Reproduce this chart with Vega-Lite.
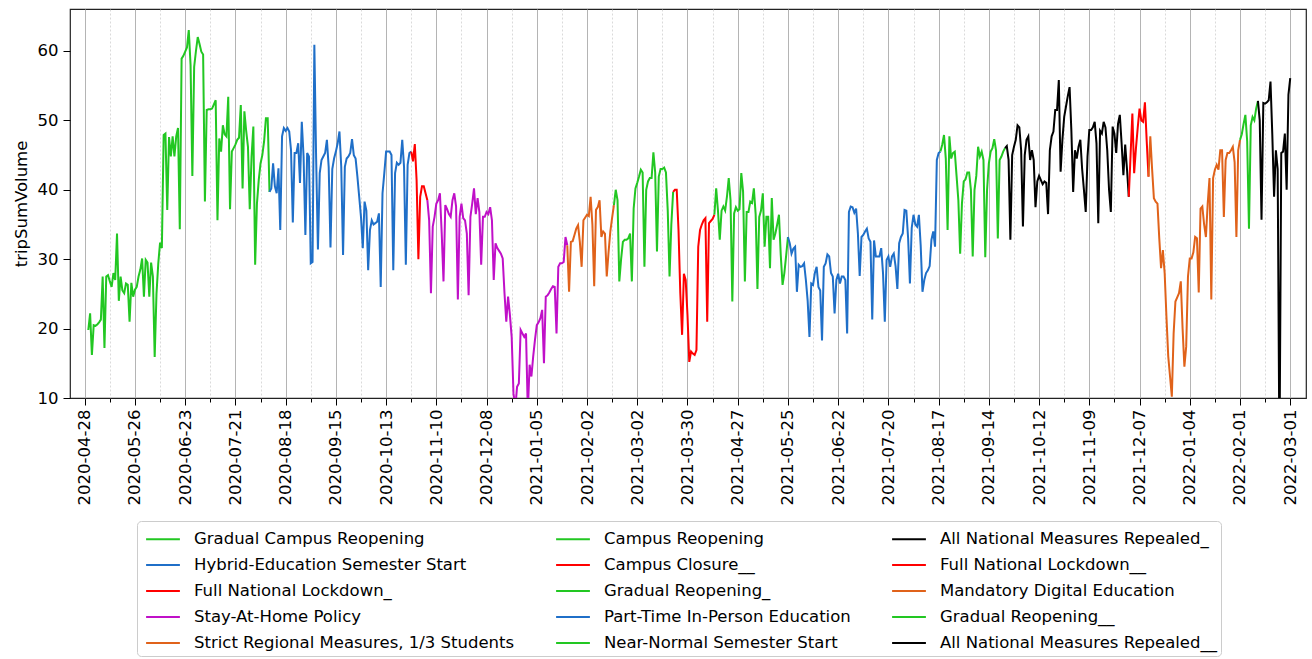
{
"$schema":"https://vega.github.io/schema/vega-lite/v6.json",
"autosize":{"type":"none"},
"width":1236,"height":389,
"padding":{"left":70,"top":9,"right":6,"bottom":261},
"config":{"font":"DejaVu Sans","view":{"stroke":"#222","strokeWidth":1.2},"background":"white"},
"data":{"values":[
{"t":"2020-04-30","v":19.8,"p":1},
{"t":"2020-05-01","v":22.2,"p":1},{"t":"2020-05-02","v":16.2,"p":1},{"t":"2020-05-03","v":20.5,"p":1},{"t":"2020-05-04","v":20.4,"p":1},{"t":"2020-05-05","v":20.6,"p":1},{"t":"2020-05-06","v":20.9,"p":1},{"t":"2020-05-07","v":21.3,"p":1},{"t":"2020-05-08","v":27.5,"p":1},{"t":"2020-05-09","v":17.2,"p":1},{"t":"2020-05-10","v":27.5,"p":1},{"t":"2020-05-11","v":27.7,"p":1},{"t":"2020-05-12","v":26.8,"p":1},{"t":"2020-05-13","v":26.0,"p":1},{"t":"2020-05-14","v":28.0,"p":1},{"t":"2020-05-15","v":27.0,"p":1},{"t":"2020-05-16","v":33.7,"p":1},{"t":"2020-05-17","v":24.0,"p":1},{"t":"2020-05-18","v":27.5,"p":1},{"t":"2020-05-19","v":25.5,"p":1},{"t":"2020-05-20","v":25.1,"p":1},{"t":"2020-05-21","v":26.5,"p":1},{"t":"2020-05-22","v":26.3,"p":1},{"t":"2020-05-23","v":21.0,"p":1},{"t":"2020-05-24","v":26.6,"p":1},{"t":"2020-05-25","v":24.6,"p":1},{"t":"2020-05-26","v":25.6,"p":1},{"t":"2020-05-27","v":26.0,"p":1},{"t":"2020-05-28","v":27.5,"p":1},{"t":"2020-05-29","v":28.5,"p":1},{"t":"2020-05-30","v":30.1,"p":1},{"t":"2020-05-31","v":24.6,"p":1},
{"t":"2020-06-01","v":29.9,"p":1},{"t":"2020-06-02","v":29.5,"p":1},{"t":"2020-06-03","v":24.6,"p":1},{"t":"2020-06-04","v":29.5,"p":1},{"t":"2020-06-05","v":27.5,"p":1},{"t":"2020-06-06","v":15.9,"p":1},{"t":"2020-06-07","v":25.0,"p":1},{"t":"2020-06-08","v":29.4,"p":1},{"t":"2020-06-09","v":32.4,"p":1},{"t":"2020-06-10","v":31.6,"p":1},{"t":"2020-06-11","v":47.9,"p":1},{"t":"2020-06-12","v":48.1,"p":1},{"t":"2020-06-13","v":37.1,"p":1},{"t":"2020-06-14","v":47.6,"p":1},{"t":"2020-06-15","v":44.8,"p":1},{"t":"2020-06-16","v":47.7,"p":1},{"t":"2020-06-17","v":44.8,"p":1},{"t":"2020-06-18","v":47.7,"p":1},{"t":"2020-06-19","v":48.9,"p":1},{"t":"2020-06-20","v":34.3,"p":1},{"t":"2020-06-21","v":58.9,"p":1},{"t":"2020-06-22","v":59.3,"p":1},{"t":"2020-06-23","v":59.9,"p":1},{"t":"2020-06-24","v":60.5,"p":1},{"t":"2020-06-25","v":63.0,"p":1},{"t":"2020-06-26","v":58.0,"p":1},{"t":"2020-06-27","v":42.0,"p":1},{"t":"2020-06-28","v":57.7,"p":1},{"t":"2020-06-29","v":60.0,"p":1},{"t":"2020-06-30","v":62.0,"p":1},
{"t":"2020-07-01","v":61.0,"p":1},{"t":"2020-07-02","v":59.9,"p":1},{"t":"2020-07-03","v":59.5,"p":1},{"t":"2020-07-04","v":38.3,"p":1},{"t":"2020-07-05","v":51.5,"p":1},{"t":"2020-07-06","v":51.6,"p":1},{"t":"2020-07-07","v":51.6,"p":1},{"t":"2020-07-08","v":51.7,"p":1},{"t":"2020-07-09","v":52.3,"p":1},{"t":"2020-07-10","v":52.9,"p":1},{"t":"2020-07-11","v":35.6,"p":1},{"t":"2020-07-12","v":47.4,"p":1},{"t":"2020-07-13","v":45.5,"p":1},{"t":"2020-07-14","v":49.3,"p":1},{"t":"2020-07-15","v":48.0,"p":1},{"t":"2020-07-16","v":47.7,"p":1},{"t":"2020-07-17","v":53.4,"p":1},{"t":"2020-07-18","v":37.2,"p":1},{"t":"2020-07-19","v":45.5,"p":1},{"t":"2020-07-20","v":46.0,"p":1},{"t":"2020-07-21","v":46.5,"p":1},{"t":"2020-07-22","v":47.2,"p":1},{"t":"2020-07-23","v":47.5,"p":1},{"t":"2020-07-24","v":52.2,"p":1},{"t":"2020-07-25","v":40.2,"p":1},{"t":"2020-07-26","v":51.3,"p":1},{"t":"2020-07-27","v":48.5,"p":1},{"t":"2020-07-28","v":46.2,"p":1},{"t":"2020-07-29","v":37.2,"p":1},{"t":"2020-07-30","v":44.8,"p":1},{"t":"2020-07-31","v":49.1,"p":1},
{"t":"2020-08-01","v":29.2,"p":1},{"t":"2020-08-02","v":38.0,"p":1},{"t":"2020-08-03","v":41.4,"p":1},{"t":"2020-08-04","v":43.8,"p":1},{"t":"2020-08-05","v":45.0,"p":1},{"t":"2020-08-06","v":47.0,"p":1},{"t":"2020-08-07","v":50.3,"p":1},{"t":"2020-08-08","v":50.3,"p":1},{"t":"2020-08-09","v":39.7,"p":1},
{"t":"2020-08-09","v":39.7,"p":2},{"t":"2020-08-10","v":40.2,"p":2},{"t":"2020-08-11","v":43.8,"p":2},{"t":"2020-08-12","v":40.5,"p":2},{"t":"2020-08-13","v":39.5,"p":2},{"t":"2020-08-14","v":43.1,"p":2},{"t":"2020-08-15","v":34.2,"p":2},{"t":"2020-08-16","v":47.7,"p":2},{"t":"2020-08-17","v":48.9,"p":2},{"t":"2020-08-18","v":48.5,"p":2},{"t":"2020-08-19","v":48.9,"p":2},{"t":"2020-08-20","v":48.4,"p":2},{"t":"2020-08-21","v":45.7,"p":2},{"t":"2020-08-22","v":35.3,"p":2},{"t":"2020-08-23","v":45.3,"p":2},{"t":"2020-08-24","v":45.3,"p":2},{"t":"2020-08-25","v":46.7,"p":2},{"t":"2020-08-26","v":41.0,"p":2},{"t":"2020-08-27","v":49.8,"p":2},{"t":"2020-08-28","v":44.8,"p":2},{"t":"2020-08-29","v":33.5,"p":2},{"t":"2020-08-30","v":45.3,"p":2},{"t":"2020-08-31","v":44.8,"p":2},
{"t":"2020-09-01","v":29.4,"p":2},{"t":"2020-09-02","v":29.6,"p":2},{"t":"2020-09-03","v":60.9,"p":2},{"t":"2020-09-04","v":44.5,"p":2},{"t":"2020-09-05","v":31.4,"p":2},{"t":"2020-09-06","v":42.4,"p":2},{"t":"2020-09-07","v":44.3,"p":2},{"t":"2020-09-08","v":44.8,"p":2},{"t":"2020-09-09","v":45.3,"p":2},{"t":"2020-09-10","v":47.2,"p":2},{"t":"2020-09-11","v":43.3,"p":2},{"t":"2020-09-12","v":31.7,"p":2},{"t":"2020-09-13","v":43.0,"p":2},{"t":"2020-09-14","v":44.5,"p":2},{"t":"2020-09-15","v":45.5,"p":2},{"t":"2020-09-16","v":46.7,"p":2},{"t":"2020-09-17","v":48.4,"p":2},{"t":"2020-09-18","v":43.3,"p":2},{"t":"2020-09-19","v":30.6,"p":2},{"t":"2020-09-20","v":43.3,"p":2},{"t":"2020-09-21","v":44.5,"p":2},{"t":"2020-09-22","v":44.8,"p":2},{"t":"2020-09-23","v":45.3,"p":2},{"t":"2020-09-24","v":47.3,"p":2},{"t":"2020-09-25","v":45.0,"p":2},{"t":"2020-09-26","v":44.5,"p":2},{"t":"2020-09-27","v":41.9,"p":2},{"t":"2020-09-28","v":39.0,"p":2},{"t":"2020-09-29","v":36.1,"p":2},{"t":"2020-09-30","v":31.6,"p":2},
{"t":"2020-10-01","v":38.3,"p":2},{"t":"2020-10-02","v":37.0,"p":2},{"t":"2020-10-03","v":28.4,"p":2},{"t":"2020-10-04","v":34.2,"p":2},{"t":"2020-10-05","v":35.6,"p":2},{"t":"2020-10-06","v":35.0,"p":2},{"t":"2020-10-07","v":35.2,"p":2},{"t":"2020-10-08","v":35.4,"p":2},{"t":"2020-10-09","v":36.6,"p":2},{"t":"2020-10-10","v":26.0,"p":2},{"t":"2020-10-11","v":39.5,"p":2},{"t":"2020-10-12","v":42.4,"p":2},{"t":"2020-10-13","v":45.5,"p":2},{"t":"2020-10-14","v":45.5,"p":2},{"t":"2020-10-15","v":45.5,"p":2},{"t":"2020-10-16","v":45.0,"p":2},{"t":"2020-10-17","v":28.4,"p":2},{"t":"2020-10-18","v":42.4,"p":2},{"t":"2020-10-19","v":43.9,"p":2},{"t":"2020-10-20","v":43.6,"p":2},{"t":"2020-10-21","v":43.9,"p":2},{"t":"2020-10-22","v":47.2,"p":2},{"t":"2020-10-23","v":43.3,"p":2},{"t":"2020-10-24","v":29.2,"p":2},{"t":"2020-10-25","v":43.6,"p":2},{"t":"2020-10-26","v":45.3,"p":2},{"t":"2020-10-27","v":45.5,"p":2},
{"t":"2020-10-27","v":45.5,"p":3},{"t":"2020-10-28","v":44.1,"p":3},{"t":"2020-10-29","v":46.6,"p":3},{"t":"2020-10-30","v":41.4,"p":3},{"t":"2020-10-31","v":30.0,"p":3},{"t":"2020-11-01","v":39.0,"p":3},{"t":"2020-11-02","v":40.5,"p":3},{"t":"2020-11-03","v":40.5,"p":3},{"t":"2020-11-04","v":39.5,"p":3},{"t":"2020-11-05","v":38.5,"p":3},
{"t":"2020-11-05","v":38.5,"p":4},{"t":"2020-11-06","v":35.6,"p":4},{"t":"2020-11-07","v":25.1,"p":4},{"t":"2020-11-08","v":34.7,"p":4},{"t":"2020-11-09","v":36.1,"p":4},{"t":"2020-11-10","v":38.0,"p":4},{"t":"2020-11-11","v":38.5,"p":4},{"t":"2020-11-12","v":39.5,"p":4},{"t":"2020-11-13","v":33.7,"p":4},{"t":"2020-11-14","v":26.8,"p":4},{"t":"2020-11-15","v":37.8,"p":4},{"t":"2020-11-16","v":37.2,"p":4},{"t":"2020-11-17","v":36.5,"p":4},{"t":"2020-11-18","v":36.1,"p":4},{"t":"2020-11-19","v":38.5,"p":4},{"t":"2020-11-20","v":39.5,"p":4},{"t":"2020-11-21","v":37.6,"p":4},{"t":"2020-11-22","v":24.2,"p":4},{"t":"2020-11-23","v":36.1,"p":4},{"t":"2020-11-24","v":38.0,"p":4},{"t":"2020-11-25","v":35.9,"p":4},{"t":"2020-11-26","v":35.6,"p":4},{"t":"2020-11-27","v":33.7,"p":4},{"t":"2020-11-28","v":24.8,"p":4},{"t":"2020-11-29","v":36.1,"p":4},{"t":"2020-11-30","v":38.0,"p":4},
{"t":"2020-12-01","v":40.2,"p":4},{"t":"2020-12-02","v":36.5,"p":4},{"t":"2020-12-03","v":38.8,"p":4},{"t":"2020-12-04","v":36.8,"p":4},{"t":"2020-12-05","v":29.2,"p":4},{"t":"2020-12-06","v":36.1,"p":4},{"t":"2020-12-07","v":36.1,"p":4},{"t":"2020-12-08","v":36.8,"p":4},{"t":"2020-12-09","v":36.5,"p":4},{"t":"2020-12-10","v":37.5,"p":4},{"t":"2020-12-11","v":35.6,"p":4},{"t":"2020-12-12","v":27.0,"p":4},{"t":"2020-12-13","v":32.3,"p":4},{"t":"2020-12-14","v":31.6,"p":4},{"t":"2020-12-15","v":31.2,"p":4},{"t":"2020-12-16","v":30.8,"p":4},{"t":"2020-12-17","v":30.1,"p":4},{"t":"2020-12-18","v":25.1,"p":4},{"t":"2020-12-19","v":21.0,"p":4},{"t":"2020-12-20","v":24.6,"p":4},{"t":"2020-12-21","v":22.0,"p":4},{"t":"2020-12-22","v":18.8,"p":4},{"t":"2020-12-23","v":10.7,"p":4},{"t":"2020-12-24","v":8.5,"p":4},{"t":"2020-12-25","v":11.6,"p":4},{"t":"2020-12-26","v":12.1,"p":4},{"t":"2020-12-27","v":19.8,"p":4},{"t":"2020-12-28","v":19.3,"p":4},{"t":"2020-12-29","v":18.8,"p":4},{"t":"2020-12-30","v":19.3,"p":4},{"t":"2020-12-31","v":8.0,"p":4},
{"t":"2021-01-01","v":14.8,"p":4},{"t":"2021-01-02","v":13.1,"p":4},{"t":"2021-01-03","v":16.0,"p":4},{"t":"2021-01-04","v":18.4,"p":4},{"t":"2021-01-05","v":20.5,"p":4},{"t":"2021-01-06","v":20.9,"p":4},{"t":"2021-01-07","v":21.5,"p":4},{"t":"2021-01-08","v":22.7,"p":4},{"t":"2021-01-09","v":15.0,"p":4},{"t":"2021-01-10","v":24.6,"p":4},{"t":"2021-01-11","v":24.8,"p":4},{"t":"2021-01-12","v":25.2,"p":4},{"t":"2021-01-13","v":25.7,"p":4},{"t":"2021-01-14","v":26.1,"p":4},{"t":"2021-01-15","v":26.0,"p":4},{"t":"2021-01-16","v":19.3,"p":4},{"t":"2021-01-17","v":28.9,"p":4},{"t":"2021-01-18","v":29.4,"p":4},{"t":"2021-01-19","v":29.4,"p":4},{"t":"2021-01-20","v":29.6,"p":4},{"t":"2021-01-21","v":33.2,"p":4},{"t":"2021-01-22","v":32.0,"p":4},
{"t":"2021-01-22","v":32.0,"p":5},{"t":"2021-01-23","v":25.3,"p":5},{"t":"2021-01-24","v":32.5,"p":5},{"t":"2021-01-25","v":32.6,"p":5},{"t":"2021-01-26","v":33.5,"p":5},{"t":"2021-01-27","v":34.4,"p":5},{"t":"2021-01-28","v":34.9,"p":5},{"t":"2021-01-29","v":32.5,"p":5},{"t":"2021-01-30","v":28.9,"p":5},{"t":"2021-01-31","v":35.6,"p":5},
{"t":"2021-02-01","v":36.0,"p":5},{"t":"2021-02-02","v":36.4,"p":5},{"t":"2021-02-03","v":36.2,"p":5},{"t":"2021-02-04","v":39.0,"p":5},{"t":"2021-02-05","v":35.0,"p":5},{"t":"2021-02-06","v":26.1,"p":5},{"t":"2021-02-07","v":37.1,"p":5},{"t":"2021-02-08","v":37.5,"p":5},{"t":"2021-02-09","v":38.5,"p":5},{"t":"2021-02-10","v":33.2,"p":5},{"t":"2021-02-11","v":34.0,"p":5},{"t":"2021-02-12","v":33.7,"p":5},{"t":"2021-02-13","v":27.5,"p":5},{"t":"2021-02-14","v":31.0,"p":5},{"t":"2021-02-15","v":34.0,"p":5},{"t":"2021-02-16","v":36.0,"p":5},{"t":"2021-02-17","v":37.8,"p":5},
{"t":"2021-02-17","v":37.8,"p":6},{"t":"2021-02-18","v":40.0,"p":6},{"t":"2021-02-19","v":38.5,"p":6},{"t":"2021-02-20","v":26.8,"p":6},{"t":"2021-02-21","v":30.0,"p":6},{"t":"2021-02-22","v":32.5,"p":6},{"t":"2021-02-23","v":32.8,"p":6},{"t":"2021-02-24","v":32.8,"p":6},{"t":"2021-02-25","v":33.0,"p":6},{"t":"2021-02-26","v":33.7,"p":6},{"t":"2021-02-27","v":26.8,"p":6},{"t":"2021-02-28","v":37.3,"p":6},
{"t":"2021-03-01","v":40.2,"p":6},{"t":"2021-03-02","v":41.0,"p":6},{"t":"2021-03-03","v":41.9,"p":6},{"t":"2021-03-04","v":42.9,"p":6},{"t":"2021-03-05","v":42.5,"p":6},{"t":"2021-03-06","v":28.9,"p":6},{"t":"2021-03-07","v":40.0,"p":6},{"t":"2021-03-08","v":41.2,"p":6},{"t":"2021-03-09","v":41.7,"p":6},{"t":"2021-03-10","v":41.7,"p":6},{"t":"2021-03-11","v":45.4,"p":6},{"t":"2021-03-12","v":42.5,"p":6},{"t":"2021-03-13","v":31.1,"p":6},{"t":"2021-03-14","v":41.9,"p":6},{"t":"2021-03-15","v":43.0,"p":6},{"t":"2021-03-16","v":43.0,"p":6},{"t":"2021-03-17","v":43.2,"p":6},{"t":"2021-03-18","v":42.5,"p":6},{"t":"2021-03-19","v":37.0,"p":6},{"t":"2021-03-20","v":27.5,"p":6},{"t":"2021-03-21","v":35.0,"p":6},{"t":"2021-03-22","v":39.7,"p":6},
{"t":"2021-03-22","v":39.7,"p":7},{"t":"2021-03-23","v":40.0,"p":7},{"t":"2021-03-24","v":40.0,"p":7},{"t":"2021-03-25","v":34.2,"p":7},{"t":"2021-03-26","v":25.1,"p":7},{"t":"2021-03-27","v":19.1,"p":7},{"t":"2021-03-28","v":27.9,"p":7},{"t":"2021-03-29","v":27.0,"p":7},{"t":"2021-03-30","v":22.0,"p":7},{"t":"2021-03-31","v":15.2,"p":7},
{"t":"2021-04-01","v":16.7,"p":7},{"t":"2021-04-02","v":16.4,"p":7},{"t":"2021-04-03","v":16.2,"p":7},{"t":"2021-04-04","v":16.9,"p":7},{"t":"2021-04-05","v":31.8,"p":7},{"t":"2021-04-06","v":34.2,"p":7},{"t":"2021-04-07","v":35.0,"p":7},{"t":"2021-04-08","v":35.6,"p":7},{"t":"2021-04-09","v":35.9,"p":7},{"t":"2021-04-10","v":21.0,"p":7},{"t":"2021-04-11","v":35.2,"p":7},{"t":"2021-04-12","v":35.5,"p":7},{"t":"2021-04-13","v":35.8,"p":7},{"t":"2021-04-14","v":36.4,"p":7},
{"t":"2021-04-14","v":36.4,"p":8},{"t":"2021-04-15","v":40.2,"p":8},{"t":"2021-04-16","v":37.0,"p":8},{"t":"2021-04-17","v":32.8,"p":8},{"t":"2021-04-18","v":37.0,"p":8},{"t":"2021-04-19","v":37.6,"p":8},{"t":"2021-04-20","v":37.0,"p":8},{"t":"2021-04-21","v":39.0,"p":8},{"t":"2021-04-22","v":41.7,"p":8},{"t":"2021-04-23","v":38.5,"p":8},{"t":"2021-04-24","v":23.9,"p":8},{"t":"2021-04-25","v":36.6,"p":8},{"t":"2021-04-26","v":37.5,"p":8},{"t":"2021-04-27","v":37.0,"p":8},{"t":"2021-04-28","v":37.2,"p":8},{"t":"2021-04-29","v":42.4,"p":8},{"t":"2021-04-30","v":39.7,"p":8},
{"t":"2021-05-01","v":26.8,"p":8},{"t":"2021-05-02","v":36.8,"p":8},{"t":"2021-05-03","v":36.8,"p":8},{"t":"2021-05-04","v":38.3,"p":8},{"t":"2021-05-05","v":38.1,"p":8},{"t":"2021-05-06","v":40.2,"p":8},{"t":"2021-05-07","v":36.5,"p":8},{"t":"2021-05-08","v":25.7,"p":8},{"t":"2021-05-09","v":36.1,"p":8},{"t":"2021-05-10","v":37.0,"p":8},{"t":"2021-05-11","v":39.5,"p":8},{"t":"2021-05-12","v":31.8,"p":8},{"t":"2021-05-13","v":36.1,"p":8},{"t":"2021-05-14","v":36.1,"p":8},{"t":"2021-05-15","v":28.7,"p":8},{"t":"2021-05-16","v":38.8,"p":8},{"t":"2021-05-17","v":32.8,"p":8},{"t":"2021-05-18","v":33.7,"p":8},{"t":"2021-05-19","v":35.0,"p":8},{"t":"2021-05-20","v":36.4,"p":8},{"t":"2021-05-21","v":30.6,"p":8},{"t":"2021-05-22","v":26.3,"p":8},{"t":"2021-05-23","v":28.0,"p":8},{"t":"2021-05-24","v":30.5,"p":8},{"t":"2021-05-25","v":33.2,"p":8},
{"t":"2021-05-25","v":33.2,"p":9},{"t":"2021-05-26","v":32.3,"p":9},{"t":"2021-05-27","v":30.8,"p":9},{"t":"2021-05-28","v":31.5,"p":9},{"t":"2021-05-29","v":31.8,"p":9},{"t":"2021-05-30","v":25.3,"p":9},{"t":"2021-05-31","v":29.2,"p":9},
{"t":"2021-06-01","v":28.9,"p":9},{"t":"2021-06-02","v":29.0,"p":9},{"t":"2021-06-03","v":29.4,"p":9},{"t":"2021-06-04","v":27.0,"p":9},{"t":"2021-06-05","v":24.0,"p":9},{"t":"2021-06-06","v":18.8,"p":9},{"t":"2021-06-07","v":26.5,"p":9},{"t":"2021-06-08","v":26.3,"p":9},{"t":"2021-06-09","v":28.0,"p":9},{"t":"2021-06-10","v":28.9,"p":9},{"t":"2021-06-11","v":26.0,"p":9},{"t":"2021-06-12","v":25.5,"p":9},{"t":"2021-06-13","v":18.3,"p":9},{"t":"2021-06-14","v":28.9,"p":9},{"t":"2021-06-15","v":29.4,"p":9},{"t":"2021-06-16","v":30.7,"p":9},{"t":"2021-06-17","v":30.4,"p":9},{"t":"2021-06-18","v":28.0,"p":9},{"t":"2021-06-19","v":27.5,"p":9},{"t":"2021-06-20","v":22.2,"p":9},{"t":"2021-06-21","v":27.0,"p":9},{"t":"2021-06-22","v":27.9,"p":9},{"t":"2021-06-23","v":26.5,"p":9},{"t":"2021-06-24","v":27.5,"p":9},{"t":"2021-06-25","v":27.5,"p":9},{"t":"2021-06-26","v":27.0,"p":9},{"t":"2021-06-27","v":19.3,"p":9},{"t":"2021-06-28","v":36.8,"p":9},{"t":"2021-06-29","v":37.6,"p":9},{"t":"2021-06-30","v":37.5,"p":9},
{"t":"2021-07-01","v":36.7,"p":9},{"t":"2021-07-02","v":37.3,"p":9},{"t":"2021-07-03","v":33.7,"p":9},{"t":"2021-07-04","v":27.6,"p":9},{"t":"2021-07-05","v":33.2,"p":9},{"t":"2021-07-06","v":33.5,"p":9},{"t":"2021-07-07","v":34.0,"p":9},{"t":"2021-07-08","v":34.4,"p":9},{"t":"2021-07-09","v":33.0,"p":9},{"t":"2021-07-10","v":32.5,"p":9},{"t":"2021-07-11","v":21.3,"p":9},{"t":"2021-07-12","v":32.7,"p":9},{"t":"2021-07-13","v":30.4,"p":9},{"t":"2021-07-14","v":30.4,"p":9},{"t":"2021-07-15","v":30.4,"p":9},{"t":"2021-07-16","v":31.6,"p":9},{"t":"2021-07-17","v":28.0,"p":9},{"t":"2021-07-18","v":21.0,"p":9},{"t":"2021-07-19","v":29.9,"p":9},{"t":"2021-07-20","v":30.4,"p":9},{"t":"2021-07-21","v":28.9,"p":9},{"t":"2021-07-22","v":30.4,"p":9},{"t":"2021-07-23","v":30.8,"p":9},{"t":"2021-07-24","v":29.0,"p":9},{"t":"2021-07-25","v":25.7,"p":9},{"t":"2021-07-26","v":32.3,"p":9},{"t":"2021-07-27","v":33.2,"p":9},{"t":"2021-07-28","v":33.7,"p":9},{"t":"2021-07-29","v":37.1,"p":9},{"t":"2021-07-30","v":37.0,"p":9},{"t":"2021-07-31","v":33.0,"p":9},
{"t":"2021-08-01","v":26.5,"p":9},{"t":"2021-08-02","v":34.5,"p":9},{"t":"2021-08-03","v":36.4,"p":9},{"t":"2021-08-04","v":35.0,"p":9},{"t":"2021-08-05","v":34.7,"p":9},{"t":"2021-08-06","v":36.4,"p":9},{"t":"2021-08-07","v":32.0,"p":9},{"t":"2021-08-08","v":25.3,"p":9},{"t":"2021-08-09","v":27.0,"p":9},{"t":"2021-08-10","v":28.0,"p":9},{"t":"2021-08-11","v":28.4,"p":9},{"t":"2021-08-12","v":29.0,"p":9},{"t":"2021-08-13","v":32.8,"p":9},{"t":"2021-08-14","v":34.0,"p":9},{"t":"2021-08-15","v":31.8,"p":9},{"t":"2021-08-16","v":44.3,"p":9},{"t":"2021-08-17","v":45.3,"p":9},{"t":"2021-08-18","v":45.5,"p":9},
{"t":"2021-08-18","v":45.5,"p":10},{"t":"2021-08-19","v":46.5,"p":10},{"t":"2021-08-20","v":47.9,"p":10},{"t":"2021-08-21","v":44.5,"p":10},{"t":"2021-08-22","v":34.2,"p":10},{"t":"2021-08-23","v":47.7,"p":10},{"t":"2021-08-24","v":44.5,"p":10},{"t":"2021-08-25","v":45.3,"p":10},{"t":"2021-08-26","v":45.5,"p":10},{"t":"2021-08-27","v":42.0,"p":10},{"t":"2021-08-28","v":38.5,"p":10},{"t":"2021-08-29","v":30.8,"p":10},{"t":"2021-08-30","v":38.0,"p":10},{"t":"2021-08-31","v":41.2,"p":10},
{"t":"2021-09-01","v":41.5,"p":10},{"t":"2021-09-02","v":42.5,"p":10},{"t":"2021-09-03","v":42.5,"p":10},{"t":"2021-09-04","v":40.0,"p":10},{"t":"2021-09-05","v":30.4,"p":10},{"t":"2021-09-06","v":40.0,"p":10},{"t":"2021-09-07","v":42.0,"p":10},{"t":"2021-09-08","v":46.2,"p":10},{"t":"2021-09-09","v":44.8,"p":10},{"t":"2021-09-10","v":45.5,"p":10},{"t":"2021-09-11","v":44.3,"p":10},{"t":"2021-09-12","v":30.3,"p":10},{"t":"2021-09-13","v":40.0,"p":10},{"t":"2021-09-14","v":43.8,"p":10},{"t":"2021-09-15","v":45.5,"p":10},{"t":"2021-09-16","v":46.0,"p":10},{"t":"2021-09-17","v":47.3,"p":10},{"t":"2021-09-18","v":45.7,"p":10},{"t":"2021-09-19","v":33.0,"p":10},{"t":"2021-09-20","v":44.3,"p":10},{"t":"2021-09-21","v":44.8,"p":10},{"t":"2021-09-22","v":45.5,"p":10},{"t":"2021-09-23","v":46.0,"p":10},
{"t":"2021-09-23","v":46.0,"p":11},{"t":"2021-09-24","v":46.3,"p":11},{"t":"2021-09-25","v":44.3,"p":11},{"t":"2021-09-26","v":32.8,"p":11},{"t":"2021-09-27","v":45.0,"p":11},{"t":"2021-09-28","v":46.2,"p":11},{"t":"2021-09-29","v":47.2,"p":11},{"t":"2021-09-30","v":49.3,"p":11},
{"t":"2021-10-01","v":49.0,"p":11},{"t":"2021-10-02","v":45.7,"p":11},{"t":"2021-10-03","v":34.7,"p":11},{"t":"2021-10-04","v":45.0,"p":11},{"t":"2021-10-05","v":47.2,"p":11},{"t":"2021-10-06","v":47.7,"p":11},{"t":"2021-10-07","v":44.3,"p":11},{"t":"2021-10-08","v":45.7,"p":11},{"t":"2021-10-09","v":44.3,"p":11},{"t":"2021-10-10","v":37.5,"p":11},{"t":"2021-10-11","v":41.2,"p":11},{"t":"2021-10-12","v":42.0,"p":11},{"t":"2021-10-13","v":41.4,"p":11},{"t":"2021-10-14","v":40.8,"p":11},{"t":"2021-10-15","v":41.2,"p":11},{"t":"2021-10-16","v":41.0,"p":11},{"t":"2021-10-17","v":36.5,"p":11},{"t":"2021-10-18","v":45.7,"p":11},{"t":"2021-10-19","v":47.7,"p":11},{"t":"2021-10-20","v":48.4,"p":11},{"t":"2021-10-21","v":51.5,"p":11},{"t":"2021-10-22","v":51.5,"p":11},{"t":"2021-10-23","v":55.8,"p":11},{"t":"2021-10-24","v":42.6,"p":11},{"t":"2021-10-25","v":47.2,"p":11},{"t":"2021-10-26","v":50.5,"p":11},{"t":"2021-10-27","v":52.0,"p":11},{"t":"2021-10-28","v":53.5,"p":11},{"t":"2021-10-29","v":54.8,"p":11},{"t":"2021-10-30","v":48.5,"p":11},{"t":"2021-10-31","v":39.7,"p":11},
{"t":"2021-11-01","v":45.7,"p":11},{"t":"2021-11-02","v":44.5,"p":11},{"t":"2021-11-03","v":46.2,"p":11},{"t":"2021-11-04","v":47.2,"p":11},{"t":"2021-11-05","v":43.0,"p":11},{"t":"2021-11-06","v":40.0,"p":11},{"t":"2021-11-07","v":36.8,"p":11},{"t":"2021-11-08","v":44.8,"p":11},{"t":"2021-11-09","v":48.6,"p":11},{"t":"2021-11-10","v":48.6,"p":11},{"t":"2021-11-11","v":49.0,"p":11},{"t":"2021-11-12","v":49.8,"p":11},{"t":"2021-11-13","v":46.7,"p":11},{"t":"2021-11-14","v":35.2,"p":11},{"t":"2021-11-15","v":48.5,"p":11},{"t":"2021-11-16","v":48.1,"p":11},{"t":"2021-11-17","v":49.8,"p":11},{"t":"2021-11-18","v":49.0,"p":11},{"t":"2021-11-19","v":45.7,"p":11},{"t":"2021-11-20","v":40.0,"p":11},{"t":"2021-11-21","v":36.8,"p":11},{"t":"2021-11-22","v":49.1,"p":11},{"t":"2021-11-23","v":48.1,"p":11},{"t":"2021-11-24","v":45.3,"p":11},{"t":"2021-11-25","v":49.5,"p":11},{"t":"2021-11-26","v":50.8,"p":11},{"t":"2021-11-27","v":46.7,"p":11},{"t":"2021-11-28","v":42.1,"p":11},{"t":"2021-11-29","v":46.5,"p":11},{"t":"2021-11-30","v":43.0,"p":11},{"t":"2021-12-01","v":39.0,"p":11},
{"t":"2021-12-01","v":39.0,"p":12},{"t":"2021-12-02","v":45.0,"p":12},{"t":"2021-12-03","v":51.0,"p":12},{"t":"2021-12-04","v":42.4,"p":12},{"t":"2021-12-05","v":46.0,"p":12},{"t":"2021-12-06","v":49.0,"p":12},{"t":"2021-12-07","v":51.7,"p":12},{"t":"2021-12-08","v":50.0,"p":12},{"t":"2021-12-09","v":49.8,"p":12},{"t":"2021-12-10","v":52.6,"p":12},{"t":"2021-12-11","v":47.0,"p":12},{"t":"2021-12-12","v":41.9,"p":12},
{"t":"2021-12-12","v":41.9,"p":13},{"t":"2021-12-13","v":47.7,"p":13},{"t":"2021-12-14","v":43.0,"p":13},{"t":"2021-12-15","v":38.8,"p":13},{"t":"2021-12-16","v":38.3,"p":13},{"t":"2021-12-17","v":38.0,"p":13},{"t":"2021-12-18","v":33.0,"p":13},{"t":"2021-12-19","v":28.7,"p":13},{"t":"2021-12-20","v":31.3,"p":13},{"t":"2021-12-21","v":28.0,"p":13},{"t":"2021-12-22","v":21.7,"p":13},{"t":"2021-12-23","v":16.0,"p":13},{"t":"2021-12-24","v":13.1,"p":13},{"t":"2021-12-25","v":10.2,"p":13},{"t":"2021-12-26","v":19.3,"p":13},{"t":"2021-12-27","v":23.9,"p":13},{"t":"2021-12-28","v":24.5,"p":13},{"t":"2021-12-29","v":25.1,"p":13},{"t":"2021-12-30","v":26.8,"p":13},{"t":"2021-12-31","v":20.0,"p":13},
{"t":"2022-01-01","v":14.5,"p":13},{"t":"2022-01-02","v":17.4,"p":13},{"t":"2022-01-03","v":27.5,"p":13},{"t":"2022-01-04","v":30.1,"p":13},{"t":"2022-01-05","v":30.1,"p":13},{"t":"2022-01-06","v":31.0,"p":13},{"t":"2022-01-07","v":33.2,"p":13},{"t":"2022-01-08","v":33.0,"p":13},{"t":"2022-01-09","v":25.2,"p":13},{"t":"2022-01-10","v":37.3,"p":13},{"t":"2022-01-11","v":37.6,"p":13},{"t":"2022-01-12","v":35.0,"p":13},{"t":"2022-01-13","v":33.2,"p":13},{"t":"2022-01-14","v":38.0,"p":13},{"t":"2022-01-15","v":41.7,"p":13},{"t":"2022-01-16","v":24.2,"p":13},{"t":"2022-01-17","v":41.7,"p":13},{"t":"2022-01-18","v":42.9,"p":13},{"t":"2022-01-19","v":43.6,"p":13},{"t":"2022-01-20","v":42.9,"p":13},{"t":"2022-01-21","v":45.7,"p":13},{"t":"2022-01-22","v":45.7,"p":13},{"t":"2022-01-23","v":36.1,"p":13},{"t":"2022-01-24","v":44.3,"p":13},{"t":"2022-01-25","v":45.3,"p":13},{"t":"2022-01-26","v":45.3,"p":13},{"t":"2022-01-27","v":45.7,"p":13},{"t":"2022-01-28","v":46.2,"p":13},{"t":"2022-01-29","v":44.0,"p":13},{"t":"2022-01-30","v":33.2,"p":13},{"t":"2022-01-31","v":45.7,"p":13},{"t":"2022-02-01","v":47.2,"p":13},
{"t":"2022-02-01","v":47.2,"p":14},{"t":"2022-02-02","v":48.0,"p":14},{"t":"2022-02-03","v":49.5,"p":14},{"t":"2022-02-04","v":50.8,"p":14},{"t":"2022-02-05","v":47.0,"p":14},{"t":"2022-02-06","v":34.4,"p":14},{"t":"2022-02-07","v":49.3,"p":14},{"t":"2022-02-08","v":50.5,"p":14},{"t":"2022-02-09","v":50.0,"p":14},{"t":"2022-02-10","v":51.7,"p":14},{"t":"2022-02-11","v":52.8,"p":14},
{"t":"2022-02-11","v":52.8,"p":15},{"t":"2022-02-12","v":50.0,"p":15},{"t":"2022-02-13","v":35.7,"p":15},{"t":"2022-02-14","v":52.5,"p":15},{"t":"2022-02-15","v":52.4,"p":15},{"t":"2022-02-16","v":52.6,"p":15},{"t":"2022-02-17","v":52.9,"p":15},{"t":"2022-02-18","v":55.6,"p":15},{"t":"2022-02-19","v":48.0,"p":15},{"t":"2022-02-20","v":39.0,"p":15},{"t":"2022-02-21","v":45.7,"p":15},{"t":"2022-02-22","v":43.0,"p":15},{"t":"2022-02-23","v":1.0,"p":15},{"t":"2022-02-24","v":45.3,"p":15},{"t":"2022-02-25","v":45.5,"p":15},{"t":"2022-02-26","v":48.1,"p":15},{"t":"2022-02-27","v":40.0,"p":15},{"t":"2022-02-28","v":53.7,"p":15},{"t":"2022-03-01","v":56.1,"p":15}
]},
"transform":[{"lookup":"p","from":{"data":{"values":[
{"p":1,"name":"Gradual Campus Reopening"},{"p":2,"name":"Hybrid-Education Semester Start"},{"p":3,"name":"Full National Lockdown_"},{"p":4,"name":"Stay-At-Home Policy"},{"p":5,"name":"Strict Regional Measures, 1/3 Students"},{"p":6,"name":"Campus Reopening"},{"p":7,"name":"Campus Closure__"},{"p":8,"name":"Gradual Reopening_"},{"p":9,"name":"Part-Time In-Person Education"},{"p":10,"name":"Near-Normal Semester Start"},{"p":11,"name":"All National Measures Repealed_"},{"p":12,"name":"Full National Lockdown__"},{"p":13,"name":"Mandatory Digital Education"},{"p":14,"name":"Gradual Reopening__"},{"p":15,"name":"All National Measures Repealed__"}
]},"key":"p","fields":["name"]}}],
"encoding":{
"y":{"field":"v","type":"quantitative","scale":{"domain":[10,66.05],"nice":false,"zero":false},
"axis":{"values":[10,20,30,40,50,60],"title":"tripSumVolume","titleFontSize":16.5,"titleFontWeight":"normal","titleColor":"#000","titlePadding":8,"labelFontSize":16.5,"labelColor":"#000","tickColor":"#000","tickSize":7,"labelPadding":5,"domain":false,"grid":false}}
},
"layer":[
{"mark":{"type":"line","opacity":0},
"encoding":{"x":{"field":"t","type":"temporal","scale":{"type":"utc","domain":[{"year":2020,"month":4,"date":19,"hours":19,"utc":true},{"year":2022,"month":3,"date":9,"hours":19,"utc":true}]},
"axis":{"orient":"bottom","title":null,"labels":false,"domain":false,"ticks":true,"tickSize":4,"tickColor":"#000","grid":true,"gridColor":"#d0d0d0","gridDash":[2,2],"gridWidth":0.8,
"values":[{"year":2020,"month":5,"date":12,"utc":true},{"year":2020,"month":6,"date":9,"utc":true},{"year":2020,"month":7,"date":7,"utc":true},{"year":2020,"month":8,"date":4,"utc":true},{"year":2020,"month":9,"date":1,"utc":true},{"year":2020,"month":9,"date":29,"utc":true},{"year":2020,"month":10,"date":27,"utc":true},{"year":2020,"month":11,"date":24,"utc":true},{"year":2020,"month":12,"date":22,"utc":true},{"year":2021,"month":1,"date":19,"utc":true},{"year":2021,"month":2,"date":16,"utc":true},{"year":2021,"month":3,"date":16,"utc":true},{"year":2021,"month":4,"date":13,"utc":true},{"year":2021,"month":5,"date":11,"utc":true},{"year":2021,"month":6,"date":8,"utc":true},{"year":2021,"month":7,"date":6,"utc":true},{"year":2021,"month":8,"date":3,"utc":true},{"year":2021,"month":8,"date":31,"utc":true},{"year":2021,"month":9,"date":28,"utc":true},{"year":2021,"month":10,"date":26,"utc":true},{"year":2021,"month":11,"date":23,"utc":true},{"year":2021,"month":12,"date":21,"utc":true},{"year":2022,"month":1,"date":18,"utc":true},{"year":2022,"month":2,"date":15,"utc":true}]}}}},
{"mark":{"type":"line","strokeWidth":2,"clip":true},
"encoding":{"x":{"field":"t","type":"temporal","scale":{"type":"utc","domain":[{"year":2020,"month":4,"date":19,"hours":19,"utc":true},{"year":2022,"month":3,"date":9,"hours":19,"utc":true}]},
"axis":{"orient":"bottom","title":null,"labelExpr":"utcFormat(datum.value, '%Y-%m-%d')","labelAngle":270,"labelFontSize":16.5,"labelColor":"#000","labelPadding":4,"domain":false,"tickSize":7,"tickColor":"#000","grid":true,"gridColor":"#b4b4b4","gridWidth":1,"labelOverlap":false,
"values":[{"year":2020,"month":4,"date":28,"utc":true},{"year":2020,"month":5,"date":26,"utc":true},{"year":2020,"month":6,"date":23,"utc":true},{"year":2020,"month":7,"date":21,"utc":true},{"year":2020,"month":8,"date":18,"utc":true},{"year":2020,"month":9,"date":15,"utc":true},{"year":2020,"month":10,"date":13,"utc":true},{"year":2020,"month":11,"date":10,"utc":true},{"year":2020,"month":12,"date":8,"utc":true},{"year":2021,"month":1,"date":5,"utc":true},{"year":2021,"month":2,"date":2,"utc":true},{"year":2021,"month":3,"date":2,"utc":true},{"year":2021,"month":3,"date":30,"utc":true},{"year":2021,"month":4,"date":27,"utc":true},{"year":2021,"month":5,"date":25,"utc":true},{"year":2021,"month":6,"date":22,"utc":true},{"year":2021,"month":7,"date":20,"utc":true},{"year":2021,"month":8,"date":17,"utc":true},{"year":2021,"month":9,"date":14,"utc":true},{"year":2021,"month":10,"date":12,"utc":true},{"year":2021,"month":11,"date":9,"utc":true},{"year":2021,"month":12,"date":7,"utc":true},{"year":2022,"month":1,"date":4,"utc":true},{"year":2022,"month":2,"date":1,"utc":true},{"year":2022,"month":3,"date":1,"utc":true}]}},
"color":{"field":"name","type":"nominal",
"scale":{"domain":["Gradual Campus Reopening","Hybrid-Education Semester Start","Full National Lockdown_","Stay-At-Home Policy","Strict Regional Measures, 1/3 Students","Campus Reopening","Campus Closure__","Gradual Reopening_","Part-Time In-Person Education","Near-Normal Semester Start","All National Measures Repealed_","Full National Lockdown__","Mandatory Digital Education","Gradual Reopening__","All National Measures Repealed__"],
"range":["#22c722","#1f6fc8","#ff0000","#c010c8","#e0621a","#22c722","#ff0000","#22c722","#1f6fc8","#22c722","#000000","#ff0000","#e0621a","#22c722","#000000"]},
"legend":{"title":null,"orient":"none","legendX":67,"legendY":512,"columns":3,"symbolType":"M-1.3,0H1.3","symbolSize":676,"symbolStrokeWidth":2,"symbolOffset":8,"labelFontSize":16.5,"labelColor":"#000","labelLimit":600,"labelOffset":17,"rowPadding":3,"columnPadding":36,"padding":4,"strokeColor":"#cccccc","cornerRadius":4,"fillColor":"white"}}}}
],
"resolve":{"axis":{"x":"independent"}}
}
